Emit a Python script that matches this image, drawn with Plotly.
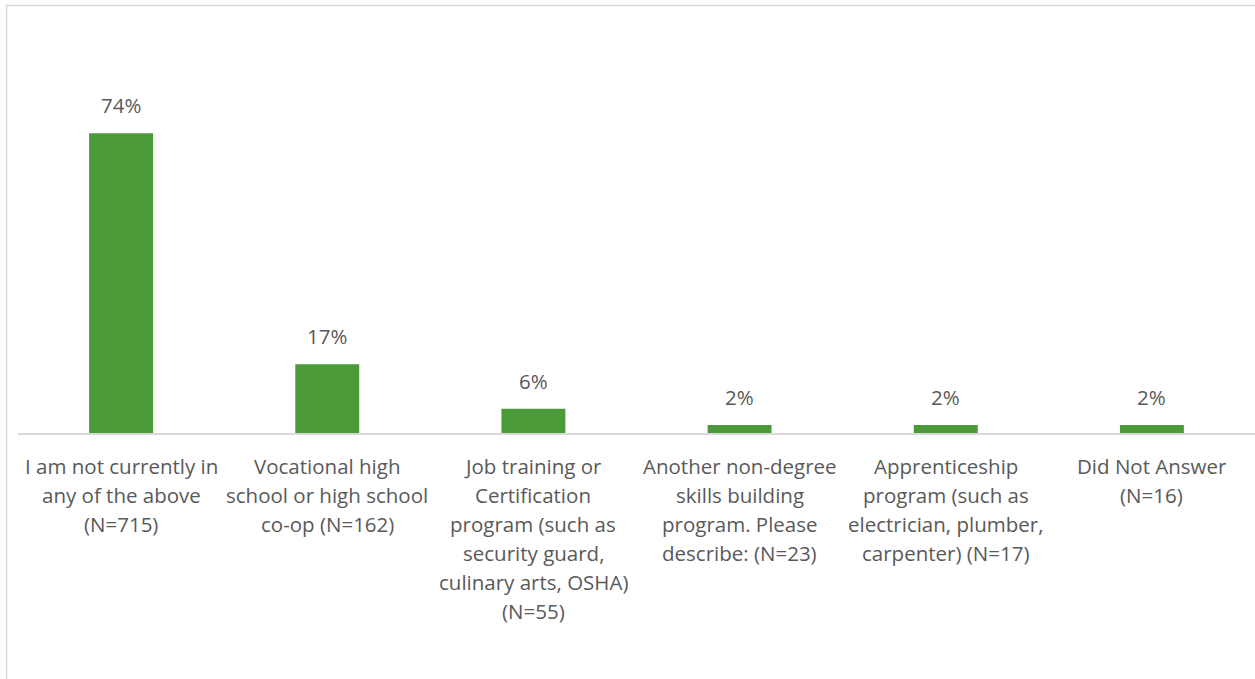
import plotly.graph_objects as go

# Survey responses: share of respondents per program type
categories = [
    "I am not currently in any of the above (N=715)",
    "Vocational high school or high school co-op (N=162)",
    "Job training or Certification program (such as security guard, culinary arts, OSHA) (N=55)",
    "Another non-degree skills building program. Please describe: (N=23)",
    "Apprenticeship program (such as electrician, plumber, carpenter) (N=17)",
    "Did Not Answer (N=16)",
]
label_lines = [
    ["I am not currently in", "any of the above", "(N=715)"],
    ["Vocational high", "school or high school", "co-op (N=162)"],
    ["Job training or", "Certification", "program (such as", "security guard,", "culinary arts, OSHA)", "(N=55)"],
    ["Another non-degree", "skills building", "program. Please", "describe: (N=23)"],
    ["Apprenticeship", "program (such as", "electrician, plumber,", "carpenter) (N=17)"],
    ["Did Not Answer", "(N=16)"],
]
percent = [74, 17, 6, 2, 2, 2]

W, H = 1255, 679
ML, MR, MT, MB = 18, 0, 5, 246
plot_w = W - ML - MR
plot_h = H - MT - MB
YMAX = 105.7

GREEN = "#4a9a3a"
TEXT = "#595959"
GRID = "#d9d9d9"
FONT = "'Open Sans', sans-serif"
FSIZE = 20.5

fig = go.Figure(
    go.Bar(
        x=categories,
        y=percent,
        marker=dict(color=GREEN, line=dict(width=0)),
        hoverinfo="skip",
    )
)

annotations = []
# value labels above the bars
for c, v in zip(categories, percent):
    annotations.append(dict(
        x=c, y=v, xref="x", yref="y", text=f"{v}%", showarrow=False,
        yanchor="bottom", yshift=12, font=dict(family=FONT, size=FSIZE, color=TEXT),
    ))
# wrapped category labels below the axis
line_step = 29
first_line = 466
for c, lines in zip(categories, label_lines):
    for i, ln in enumerate(lines):
        py = first_line + i * line_step
        annotations.append(dict(
            x=c, y=(MT + plot_h - py) / plot_h, xref="x", yref="paper",
            text=ln, showarrow=False, yanchor="middle",
            font=dict(family=FONT, size=FSIZE, color=TEXT),
        ))

# chart frame (left and top edges visible)
frame = dict(
    type="rect", xref="paper", yref="paper",
    x0=(6.5 - ML) / plot_w, x1=1.2,
    y0=-1.2, y1=(MT + plot_h - 5.5) / plot_h,
    line=dict(color=GRID, width=1.5), fillcolor="rgba(0,0,0,0)", layer="below",
)

fig.update_layout(
    width=W, height=H,
    margin=dict(l=ML, r=MR, t=MT, b=MB, pad=0),
    paper_bgcolor="white", plot_bgcolor="white",
    bargap=0.69,
    showlegend=False,
    annotations=annotations,
    shapes=[frame],
    xaxis=dict(
        showticklabels=False, ticks="", showgrid=False, zeroline=False,
        showline=True, linecolor=GRID, linewidth=1.5,
    ),
    yaxis=dict(
        range=[0, YMAX], visible=False, showgrid=False, zeroline=False,
    ),
)

fig.write_html("out.html")
